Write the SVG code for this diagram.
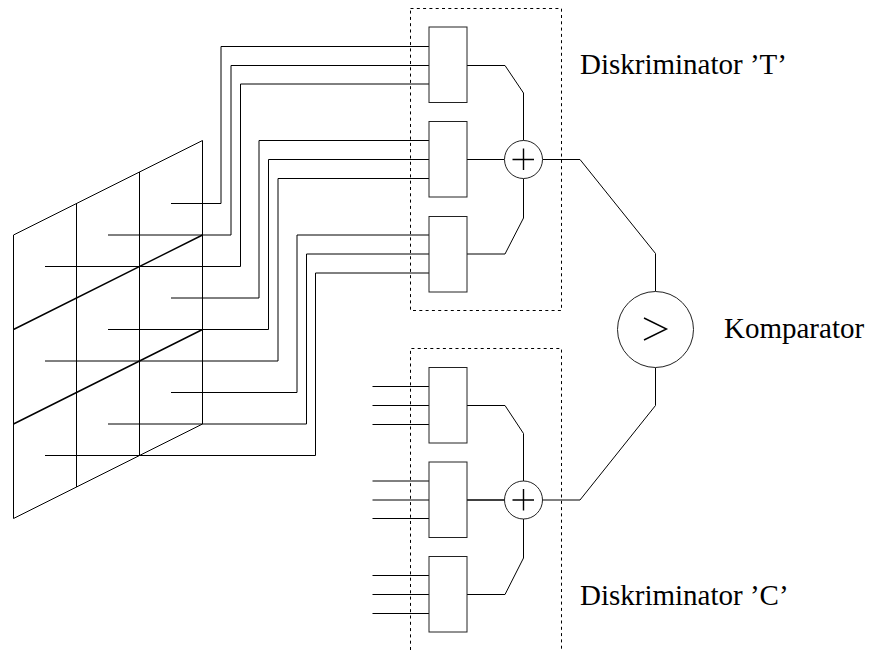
<svg xmlns="http://www.w3.org/2000/svg" width="869" height="650" viewBox="0 0 869 650">
<style>
.l{fill:none;stroke:#000;stroke-width:1;stroke-linejoin:miter}
.b{fill:#fff;stroke:#222;stroke-width:1}
.d{fill:none;stroke:#000;stroke-width:1;stroke-dasharray:3 3.3}
.p{fill:none;stroke:#000;stroke-width:1.4}
text{font-family:"Liberation Serif","Times New Roman",serif;font-size:29px;fill:#000}
</style>
<rect width="869" height="650" fill="#fff"/>
<g id="grid" class="l">
<path d="M13.5 235L202.5 140.5V424L13.5 518.5Z"/>
<path d="M76.5 203.5V487M139.5 172V455.500"/>
<path d="M13.500 329.500L202.500 235M13.500 424L202.500 329.500" stroke-width="1.400"/>
</g>
<g id="frames">
<path id="frame-t" class="d" d="M410.500 8.500H561.500V310.500H410.500Z"/>
<path id="frame-c" class="d" d="M410.500 650V348.500H561.500V650"/>
</g>
<g id="connectors" class="l">
<path d="M171 203.500H221V46.500H429"/>
<path d="M108 235H231V65.500H429"/>
<path d="M45 266.500H240.500V84H429"/>
<path d="M171 298H259V140.500H429"/>
<path d="M108 329.500H268.500V159.500H429"/>
<path d="M45 361H278V178.500H429"/>
<path d="M171 392.500H297V235H429"/>
<path d="M108 424H306.500V254H429"/>
<path d="M45 455.500H315.500V273H429"/>
<path d="M467 65.500H505L523.500 93V140.500"/>
<path d="M467 159.500H504.500"/>
<path d="M467 254H505L523.500 218V178.500"/>
<path d="M542.500 159.500H580L655.500 253.500V291.500"/>
<path d="M372.500 386.500H429M372.500 405.500H429M372.500 424.500H429"/>
<path d="M372.500 481H429M372.500 500H429M372.500 518.500H429"/>
<path d="M372.500 575.500H429M372.500 594.500H429M372.500 613.500H429"/>
<path d="M467 405.500H505L523.500 433.500V481"/>
<path d="M467 500H504.500" stroke-width="1.600"/>
<path d="M467 594.500H505L523.500 558V519"/>
<path d="M542.500 500H580L655.500 405.500V367.500"/>
</g>
<g id="disc-t-1"><rect class="b" x="429" y="27" width="38" height="75.500"/></g>
<g id="disc-t-2"><rect class="b" x="429" y="121.500" width="38" height="75.500"/></g>
<g id="disc-t-3"><rect class="b" x="429" y="216.500" width="38" height="75.500"/></g>
<g id="sum-t"><circle class="b" cx="523.500" cy="159.500" r="19"/><path class="p" d="M512.500 159.500H534M523.500 148.500V170"/></g>
<g id="disc-c-1"><rect class="b" x="429" y="367.500" width="38" height="75.500"/></g>
<g id="disc-c-2"><rect class="b" x="429" y="462" width="38" height="75.500"/></g>
<g id="disc-c-3"><rect class="b" x="429" y="556.500" width="38" height="75.500"/></g>
<g id="sum-c"><circle class="b" cx="523.500" cy="500" r="19"/><path class="p" d="M512.500 500H534M523.500 489V510.500"/></g>
<g id="comparator"><circle class="b" cx="655.500" cy="329.500" r="38"/><path class="p" d="M644 318L666.500 329L644 340"/></g>
<g id="labels">
<text x="580" y="74">Diskriminator ’T’</text>
<text x="724" y="338">Komparator</text>
<text x="580" y="605">Diskriminator ’C’</text>
</g>
</svg>
